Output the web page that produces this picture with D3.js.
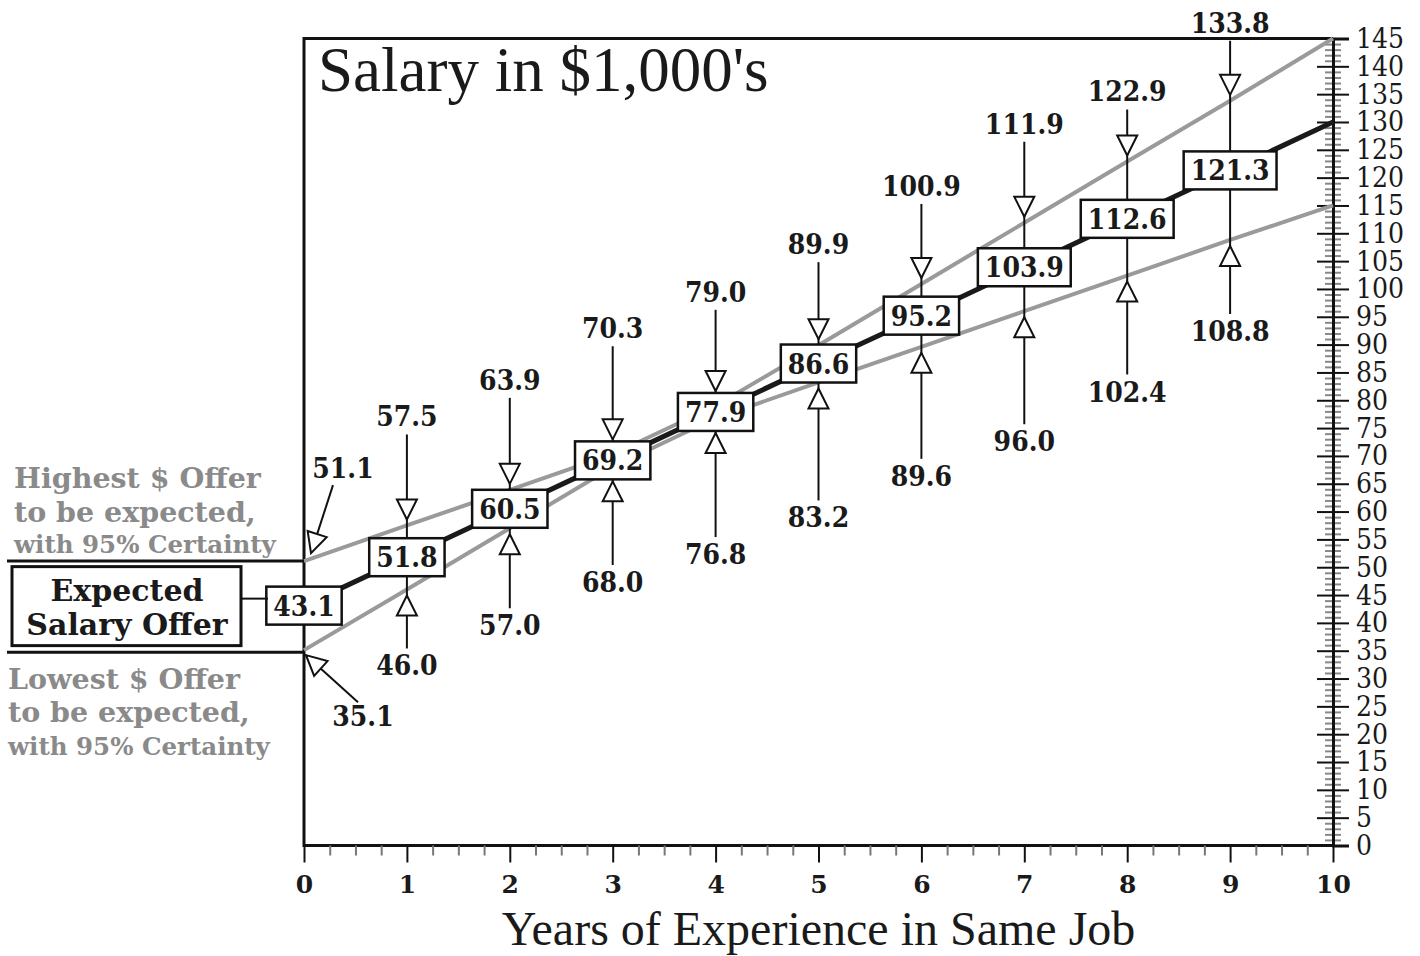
<html>
<head>
<meta charset="utf-8">
<title>Salary Offer</title>
<style>
  body { margin: 0; padding: 0; background: #fff; }
  .num { font-family: "DejaVu Serif", serif; font-weight: bold; font-stretch: condensed; font-size: 28px; fill: #1a1a1a; }
  .note { font-family: "DejaVu Serif", serif; font-weight: bold; fill: #8a8a8a; }
  .lbl { font-family: "DejaVu Serif", serif; font-weight: bold; fill: #1a1a1a; }
  .times { font-family: "Liberation Serif", "Times New Roman", serif; fill: #1a1a1a; }
</style>
</head>
<body>
<div id="chart"></div>
<script src="https://d3js.org/d3.v7.min.js"></script>
<script>
// data
var years = [0, 1, 2, 3, 4, 5, 6, 7, 8, 9, 10];
var expected = [43.1, 51.8, 60.5, 69.2, 77.9, 86.6, 95.2, 103.9, 112.6, 121.3, 130];
var highest = [51.1, 57.5, 63.9, 70.3, 79.0, 89.9, 100.9, 111.9, 122.9, 133.8, 145];
var lowest = [35.1, 46.0, 57.0, 68.0, 76.8, 83.2, 89.6, 96.0, 102.4, 108.8, 115];
var yTicks = d3.range(0, 146, 5);
var xTicks = d3.range(0, 11, 1);

// callout label distance from its point (px), layout only
var highGap = [0, 99, 100, 116, 104, 91, 88, 89, 60, 68];
var lowGap = [0, 86, 107, 125, 146, 145, 139, 140, 126, 101];

var width = 1420, height = 956;
var svg = d3.select("#chart").append("svg")
    .attr("width", width)
    .attr("height", height);

var x = d3.scaleLinear().domain([0, 10]).range([304, 1333]);
var y = d3.scaleLinear().domain([0, 145]).range([845.5, 38.5]);
var fmt = d3.format(".1f");

// frame
svg.append("path")
    .attr("d", "M" + x(10) + "," + y(145) + "H" + x(0) + "V" + y(0) + "H" + x(10))
    .attr("fill", "none").attr("stroke", "#111").attr("stroke-width", 3);

// x axis: quarter-year minor ticks, then majors with labels
svg.append("g")
    .attr("transform", "translate(0," + y(0) + ")")
    .call(d3.axisBottom(x).tickValues(d3.range(0, 10.01, 0.25).filter(function (d) { return d % 1 !== 0; }))
        .tickSize(10).tickFormat(""))
    .call(function (g) {
        g.select(".domain").remove();
        g.selectAll(".tick line").attr("stroke", "#777").attr("stroke-width", 2);
    });

svg.append("g")
    .attr("transform", "translate(0," + y(0) + ")")
    .call(d3.axisBottom(x).tickValues(xTicks).tickSize(17).tickPadding(13).tickFormat(d3.format("d")))
    .call(function (g) {
        g.select(".domain").remove();
        g.selectAll(".tick line").attr("stroke", "#111").attr("stroke-width", 2);
        g.selectAll(".tick text").attr("class", "lbl").style("font-size", "25px");
    });

// y axis on the right, ticks on both sides
svg.append("g")
    .attr("transform", "translate(" + x(10) + ",0)")
    .call(d3.axisRight(y).tickValues(d3.range(0, 146, 1).filter(function (d) { return d % 5 !== 0; }))
        .tickSize(8).tickFormat(""))
    .call(function (g) {
        g.select(".domain").remove();
        g.selectAll(".tick line").attr("x1", -8).attr("stroke", "#888").attr("stroke-width", 2);
    });

svg.append("g")
    .attr("transform", "translate(" + x(10) + ",0)")
    .call(d3.axisRight(y).tickValues(yTicks).tickSize(16).tickPadding(7))
    .call(function (g) {
        g.select(".domain").attr("stroke", "#111").attr("stroke-width", 3);
        g.selectAll(".tick line").attr("x1", -16).attr("stroke", "#111").attr("stroke-width", 2);
        g.selectAll(".tick text")
            .style("font-family", "'DejaVu Serif', serif").style("font-stretch", "condensed")
            .style("font-size", "28px").attr("fill", "#1a1a1a");
    });

// titles
svg.append("text").attr("class", "times")
    .attr("x", 318).attr("y", 91)
    .style("font-size", "63px")
    .text("Salary in $1,000's");

svg.append("text").attr("class", "times")
    .attr("x", (x(0) + x(10)) / 2).attr("y", 945)
    .attr("text-anchor", "middle")
    .style("font-size", "48px")
    .text("Years of Experience in Same Job");

// lines
var line = d3.line().x(function (d, i) { return x(years[i]); }).y(function (d) { return y(d); });

svg.append("path").datum(highest).attr("d", line)
    .attr("fill", "none").attr("stroke", "#9a9a9a").attr("stroke-width", 4);
svg.append("path").datum(lowest).attr("d", line)
    .attr("fill", "none").attr("stroke", "#9a9a9a").attr("stroke-width", 4);
svg.append("path").datum(expected).attr("d", line)
    .attr("fill", "none").attr("stroke", "#1a1a1a").attr("stroke-width", 5);

// helpers
function arrowHead(g, tx, ty, x0, y0) {
    var dx = tx - x0, dy = ty - y0, len = Math.sqrt(dx * dx + dy * dy);
    dx /= len; dy /= len;
    var bx = tx - 20 * dx, by = ty - 20 * dy;
    var px = -dy * 10, py = dx * 10;
    g.append("path")
        .attr("d", "M" + tx + "," + ty + "L" + (bx + px) + "," + (by + py) + "L" + (bx - px) + "," + (by - py) + "Z")
        .attr("fill", "#fff").attr("stroke", "#111").attr("stroke-width", 2).attr("stroke-linejoin", "miter");
}

function arrow(g, x0, y0, tx, ty) {
    g.append("line").attr("x1", x0).attr("y1", y0).attr("x2", tx).attr("y2", ty)
        .attr("stroke", "#111").attr("stroke-width", 2);
    arrowHead(g, tx, ty, x0, y0);
}

var BOX_H = 38;
var callouts = svg.append("g");

// vertical callouts for years 1..9
for (var i = 1; i <= 9; i++) {
    var cx = x(years[i]);
    var yHi = y(highest[i]), yLo = y(lowest[i]), yEx = y(expected[i]);
    var hiBase = yHi - highGap[i];
    var loBase = yLo + lowGap[i];
    var tipU = Math.min(yHi - 6, yEx - BOX_H / 2 - 2);
    var tipL = Math.max(yLo + 6, yEx + BOX_H / 2 + 2);

    callouts.append("line").attr("x1", cx).attr("x2", cx)
        .attr("y1", hiBase + 8).attr("y2", loBase - 27)
        .attr("stroke", "#111").attr("stroke-width", 2);
    arrowHead(callouts, cx, tipU, cx, tipU - 50);
    arrowHead(callouts, cx, tipL, cx, tipL + 50);

    callouts.append("text").attr("class", "num")
        .attr("x", cx).attr("y", hiBase).attr("text-anchor", "middle")
        .text(fmt(highest[i]));
    callouts.append("text").attr("class", "num")
        .attr("x", cx).attr("y", loBase).attr("text-anchor", "middle")
        .text(fmt(lowest[i]));
}

// year 0 diagonal callouts
var x0 = x(0), yH0 = y(highest[0]), yL0 = y(lowest[0]);
arrow(callouts, x0 + 29, yH0 - 76, x0 + 7, yH0 - 8);
callouts.append("text").attr("class", "num")
    .attr("x", x0 + 39).attr("y", yH0 - 83).attr("text-anchor", "middle")
    .text(fmt(highest[0]));
arrow(callouts, x0 + 54, yL0 + 52, x0 + 2, yL0 + 5);
callouts.append("text").attr("class", "num")
    .attr("x", x0 + 59).attr("y", yL0 + 76).attr("text-anchor", "middle")
    .text(fmt(lowest[0]));

// expected value boxes
var boxes = svg.append("g");
expected.slice(0, 10).forEach(function (v, i) {
    var g = boxes.append("g").attr("transform", "translate(" + x(years[i]) + "," + y(v) + ")");
    var rect = g.append("rect");
    var t = g.append("text").attr("class", "num")
        .attr("x", 0).attr("y", 10).attr("text-anchor", "middle")
        .text(fmt(v));
    var w = t.node().getComputedTextLength() + 14;
    rect.attr("x", -w / 2).attr("y", -BOX_H / 2).attr("width", w).attr("height", BOX_H)
        .attr("fill", "#fff").attr("stroke", "#111").attr("stroke-width", 2.5);
});

// left side legend
var legend = svg.append("g");
legend.append("line").attr("x1", 7).attr("x2", x0).attr("y1", yH0).attr("y2", yH0)
    .attr("stroke", "#111").attr("stroke-width", 3);
legend.append("line").attr("x1", 7).attr("x2", x0).attr("y1", yL0 + 2).attr("y2", yL0 + 2)
    .attr("stroke", "#111").attr("stroke-width", 3);

var yE0 = y(expected[0]);
legend.append("rect").attr("x", 12).attr("y", yE0 - 39).attr("width", 229).attr("height", 79)
    .attr("fill", "#fff").attr("stroke", "#111").attr("stroke-width", 3);
legend.append("line").attr("x1", 242).attr("x2", 268).attr("y1", yE0 - 7).attr("y2", yE0 - 7)
    .attr("stroke", "#111").attr("stroke-width", 2);
legend.append("text").attr("class", "lbl").attr("x", 127).attr("y", yE0 - 5).attr("text-anchor", "middle")
    .style("font-size", "30px").text("Expected");
legend.append("text").attr("class", "lbl").attr("x", 127).attr("y", yE0 + 29).attr("text-anchor", "middle")
    .style("font-size", "30px").text("Salary Offer");

var hiNote = [["Highest $ Offer", 28.5, 488], ["to be expected,", 28.5, 522], ["with 95% Certainty", 24.5, 553]];
var loNote = [["Lowest $ Offer", 28.5, 689], ["to be expected,", 28.5, 722], ["with 95% Certainty", 24.5, 755]];
hiNote.forEach(function (d) {
    legend.append("text").attr("class", "note").attr("x", 14).attr("y", d[2])
        .style("font-size", d[1] + "px").text(d[0]);
});
loNote.forEach(function (d) {
    legend.append("text").attr("class", "note").attr("x", 8).attr("y", d[2])
        .style("font-size", d[1] + "px").text(d[0]);
});
</script>
</body>
</html>
